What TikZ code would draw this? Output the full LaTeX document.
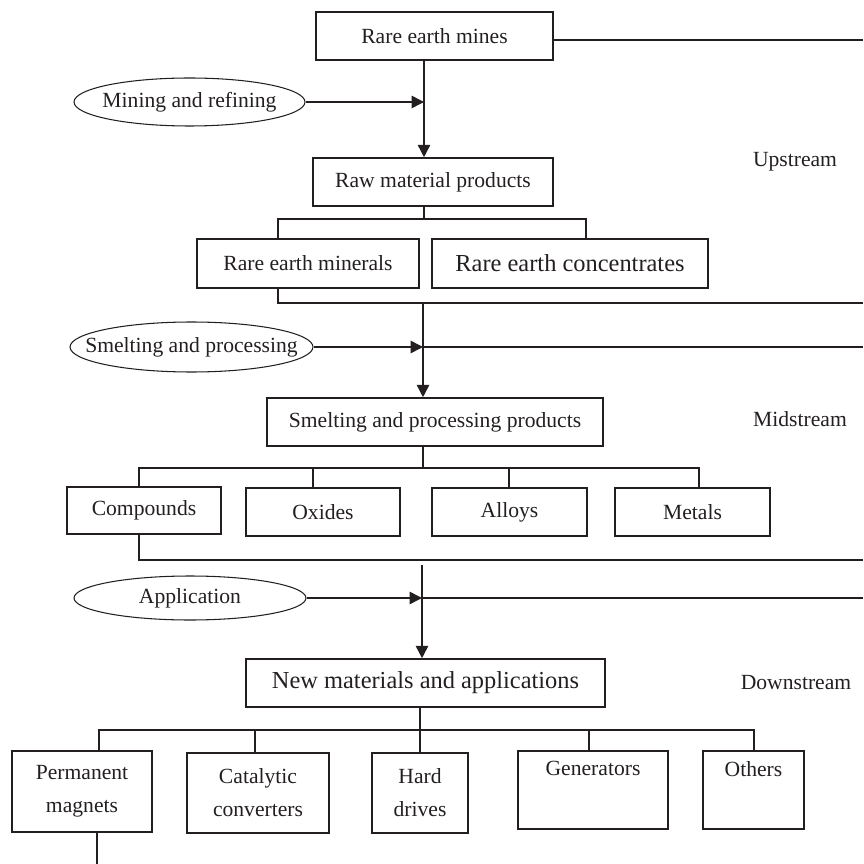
\documentclass[tikz,border=0pt]{standalone}
\usepackage{fontspec}
\setmainfont{Liberation Serif}
\usepackage{xcolor}
\usepackage{tikz}
\usetikzlibrary{shapes.geometric,arrows.meta}
\definecolor{ink}{HTML}{231F20}
\tikzset{
  box/.style={draw=ink, line width=0.9pt, rectangle, inner sep=0pt, align=center, text=ink, font=\fontsize{12.3}{18.8}\selectfont},
  big/.style={font=\fontsize{13.9}{18.8}\selectfont},
  oval/.style={draw=ink, line width=0.6pt, ellipse, inner sep=0pt, text=ink, font=\fontsize{12.3}{15}\selectfont},
  link/.style={draw=ink, line width=0.9pt},
  arr/.style={link, -{Triangle[length=7pt,width=7pt]}},
  lab/.style={text=ink, font=\fontsize{12.3}{15}\selectfont},
}

\begin{document}
\begin{tikzpicture}[x=0.02cm, y=-0.02cm]
  \useasboundingbox (0,0) rectangle (863,864);

  % upstream
  \node[box, minimum width=4.74cm, minimum height=0.96cm] (mines) at (434.5,36) {Rare earth mines};
  \node[oval, minimum width=4.62cm, minimum height=0.96cm] (mining) at (189.5,102) {\makebox[0pt]{Mining and refining}};
  \node[box, minimum width=4.8cm, minimum height=0.96cm] (raw) at (433,182) {Raw material products};
  \node[box, minimum width=4.44cm, minimum height=0.98cm] (minerals) at (308,263.5) {Rare earth minerals};
  \node[box, big, minimum width=5.52cm, minimum height=0.98cm] (conc) at (570,263.5) {Rare earth concentrates};
  \node[lab] (up) at (795,162) {Upstream};

  % midstream
  \node[oval, minimum width=4.86cm, minimum height=1.0cm] (smelting) at (191.5,347) {\makebox[0pt]{Smelting and processing}};
  \node[box, minimum width=6.72cm, minimum height=0.96cm] (smelt) at (435,422) {Smelting and processing products};
  \node[box, minimum width=3.08cm, minimum height=0.94cm] (comp) at (144,510.5) {Compounds};
  \node[box, minimum width=3.08cm, minimum height=0.96cm] (oxides) at (323,512) {Oxides};
  \node[box, minimum width=3.1cm, minimum height=0.96cm] (alloys) at (509.5,512) {Alloys};
  \node[box, minimum width=3.1cm, minimum height=0.96cm] (metals) at (692.5,512) {Metals};
  \node[lab] (mid) at (800,419) {Midstream};

  % downstream
  \node[oval, minimum width=4.64cm, minimum height=0.88cm] (app) at (190,598) {\makebox[0pt]{Application}};
  \node[box, big, minimum width=7.18cm, minimum height=0.96cm] (newmat) at (425.5,683) {New materials and applications};
  \node[box, minimum width=2.8cm, minimum height=1.62cm] (magnets) at (82,791.5) {Permanent\\magnets};
  \node[box, minimum width=2.84cm, minimum height=1.6cm] (cat) at (258,793) {Catalytic\\converters};
  \node[box, minimum width=1.92cm, minimum height=1.6cm] (hard) at (420,793) {Hard\\drives};
  \node[box, minimum width=3.0cm, minimum height=1.56cm] (gen) at (593,790) {Generators\\\strut};
  \node[box, minimum width=2.02cm, minimum height=1.56cm] (others) at (753.5,790) {Others\\\strut};
  \node[lab] (down) at (796,683) {Downstream};

  % junctions and free ends
  \coordinate (j1) at (424,102);
  \coordinate (j2) at (423,347);
  \coordinate (j3) at (422,598);
  \coordinate (s3) at (422,565);
  \coordinate (r1) at (278,219);
  \coordinate (r2) at (586,219);
  \coordinate (m1) at (139,468);
  \coordinate (m2) at (699,468);
  \coordinate (m3) at (313,468);
  \coordinate (m4) at (509,468);
  \coordinate (n1) at (99,730);
  \coordinate (n2) at (754,730);
  \coordinate (n3) at (255,730);
  \coordinate (n4) at (589,730);
  \coordinate (e1) at (863,40);
  \coordinate (e2) at (863,303);
  \coordinate (e3) at (863,347);
  \coordinate (e4) at (863,560);
  \coordinate (e5) at (863,598);
  \coordinate (e6) at (97,864);

  % upstream links
  \draw[link] (mines.east |- e1) -- (e1);
  \draw[arr] (mining.east) -- (j1);
  \draw[arr] (mines.south -| j1) -- (raw.north -| j1);
  \draw[link] (raw.south -| j1) -- (j1 |- r1);
  \draw[link] (minerals.north -| r1) |- (r2) -- (conc.north -| r2);
  \draw[link] (minerals.south -| r1) |- (e2);

  % midstream links
  \draw[arr] (j2 |- e2) -- (smelt.north -| j2);
  \draw[arr] (smelting.east) -- (j2);
  \draw[link] (j2) -- (e3);
  \draw[link] (smelt.south -| j2) -- (j2 |- m1);
  \draw[link] (comp.north -| m1) |- (m2) -- (metals.north -| m2);
  \draw[link] (m3) -- (oxides.north -| m3);
  \draw[link] (m4) -- (alloys.north -| m4);
  \draw[link] (comp.south -| m1) |- (e4);

  % downstream links
  \draw[arr] (s3) -- (newmat.north -| s3);
  \draw[arr] (app.east) -- (j3);
  \draw[link] (j3) -- (e5);
  \draw[link] (newmat.south -| hard.north) -- (hard.north);
  \draw[link] (magnets.north -| n1) |- (n2) -- (others.north -| n2);
  \draw[link] (n3) -- (cat.north -| n3);
  \draw[link] (n4) -- (gen.north -| n4);
  \draw[link] (magnets.south -| e6) -- (e6);
\end{tikzpicture}
\end{document}
